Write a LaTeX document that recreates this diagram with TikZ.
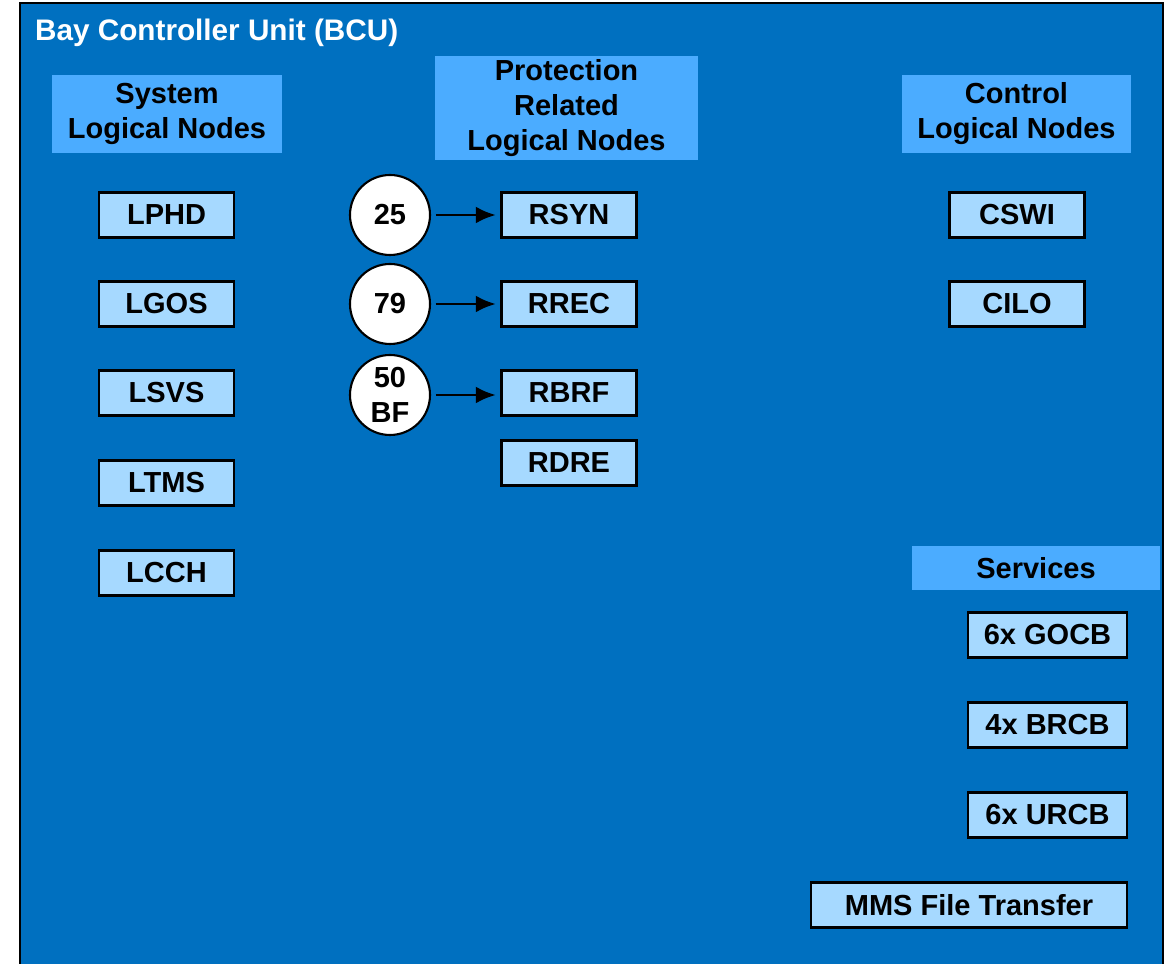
\documentclass[tikz,border=0pt]{standalone}
\usepackage{fontspec}
\setmainfont{Liberation Sans}
\usepackage{xcolor}
\usetikzlibrary{arrows.meta,positioning}
\definecolor{bcublue}{RGB}{0,112,192}
\definecolor{headblue}{RGB}{75,172,255}
\definecolor{lnblue}{RGB}{166,217,255}

\begin{document}
\begin{tikzpicture}[every node/.style={font=\bfseries\fontsize{16.5}{20}\selectfont},
  lnbox/.style={draw=black,fill=lnblue,line width=1.4pt,minimum width=2.7cm,minimum height=0.9cm,inner sep=0pt},
  svbox/.style={lnbox,minimum width=3.18cm},
  headbox/.style={fill=headblue,align=center,inner sep=0pt},
  numcirc/.style={circle,draw=black,fill=white,line width=1.2pt,minimum size=1.6cm,inner sep=0pt,align=center},
  lnarrow/.style={-{Latex[length=4mm,width=3.4mm]},line width=1.6pt,shorten <=0.9mm,shorten >=0.9mm}]
  \useasboundingbox (0,0) rectangle (23.46,19.28);
  \draw[fill=bcublue,draw=black,line width=1.3pt] (0.40,-0.2) rectangle (23.26,19.22);
  \node[anchor=west,text=white,font=\bfseries\fontsize{16.9}{20}\selectfont] (title) at (0.58,18.62){Bay Controller Unit (BCU)};
  % group headings
  \node[headbox,minimum width=4.6cm,minimum height=1.56cm] (syshd) at (3.34,17.0){System\\Logical Nodes};
  \node[headbox,minimum width=5.26cm,minimum height=2.08cm] (prothd) at (11.33,17.12){Protection\\Related\\Logical Nodes};
  \node[headbox,minimum width=4.58cm,minimum height=1.56cm] (ctrlhd) at (20.33,17.0){Control\\Logical Nodes};
  \node[headbox,minimum width=4.96cm,minimum height=0.88cm] (svchd) at (20.72,7.92){Services};
  % system LNs
  \node[lnbox] (lphd) at (3.33,14.98){LPHD};
  \node[lnbox] (lgos) at (3.33,13.20){LGOS};
  \node[lnbox] (lsvs) at (3.33,11.42){LSVS};
  \node[lnbox] (ltms) at (3.33,9.62){LTMS};
  \node[lnbox] (lcch) at (3.33,7.82){LCCH};
  % protection LNs
  \node[numcirc] (c25) at (7.80,14.98){25};
  \node[numcirc] (c79) at (7.80,13.20){79};
  \node[numcirc] (c50) at (7.80,11.38){50\\BF};
  \node[lnbox] (rsyn) at (11.38,14.98){RSYN};
  \node[lnbox] (rrec) at (11.38,13.20){RREC};
  \node[lnbox] (rbrf) at (11.38,11.42){RBRF};
  \node[lnbox] (rdre) at (11.38,10.02){RDRE};
  \draw[lnarrow] (c25) -- (rsyn);
  \draw[lnarrow] (c79) -- (rrec);
  \draw[lnarrow] (c50) -- (c50 -| rbrf.west);
  % control LNs
  \node[lnbox] (cswi) at (20.34,14.98){CSWI};
  \node[lnbox] (cilo) at (20.34,13.20){CILO};
  % services
  \node[svbox] (gocb) at (20.95,6.58){6x GOCB};
  \node[svbox] (brcb) at (20.95,4.78){4x BRCB};
  \node[svbox] (urcb) at (20.95,2.98){6x URCB};
  \node[lnbox,minimum width=6.32cm] (mms) at (19.38,1.18){MMS File Transfer};
\end{tikzpicture}
\end{document}
